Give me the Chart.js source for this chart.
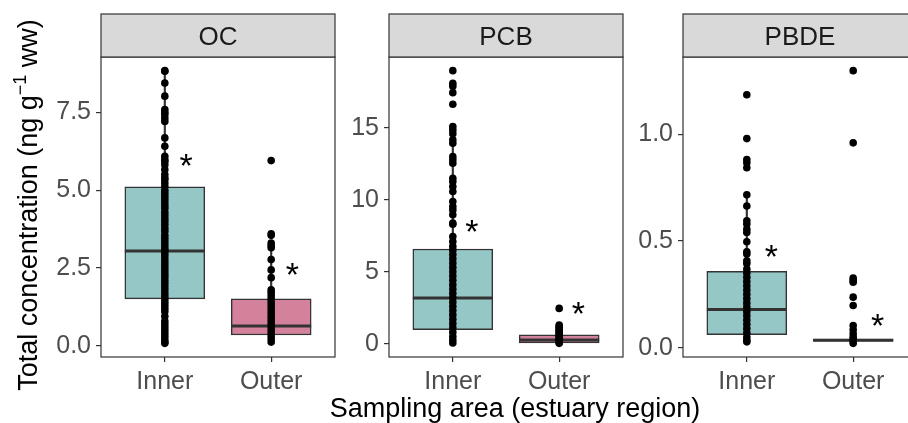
<!DOCTYPE html>
<html>
<head>
<meta charset="utf-8">
<script src="https://cdn.jsdelivr.net/npm/chart.js@4.4.0/dist/chart.umd.min.js"></script>
<style>
    body { margin: 0; width: 908px; height: 423px; overflow: hidden; background: #fff; position: relative;
           font-family: "Liberation Sans", Arial, sans-serif; }
    canvas { position: absolute; top: 0; }
    #ytitle { position: absolute; left: -182px; top: 190px; width: 420px; height: 30px; line-height: 30px;
              font-size: 27px; color: #000; text-align: center; transform: rotate(-90deg); white-space: nowrap; }
    #ytitle sup { font-size: 18px; line-height: 0; vertical-align: 0; position: relative; top: -11px; }
    #xtitle { position: absolute; left: 265px; top: 395px; width: 500px; line-height: 27px;
              font-size: 27px; color: #000; text-align: center; white-space: nowrap; }
</style>
</head>
<body>
<canvas id="c1" width="300" height="423" style="left:40px"></canvas>
<canvas id="c2" width="300" height="423" style="left:328px"></canvas>
<canvas id="c3" width="300" height="423" style="left:622px"></canvas>
<div id="ytitle">Total concentration (ng g<sup>−1</sup> ww)</div>
<div id="xtitle">Sampling area (estuary region)</div>

<script>
// Categorias (área de amostragem)
const groups = ['Inner', 'Outer'];
const boxColors = ['#96c7c7', '#d4829c'];

// OC - pontos individuais
const ocInner = [8.84, 8.82, 8.44, 8.02, 7.59, 7.5, 7.43, 7.32, 7.21, 6.68, 6.41, 6.09, 5.98, 5.93, 5.82,
    5.66, 5.5, 5.4, 5.34, 5.23, 5.12, 5.0, 4.9, 4.8, 4.7, 4.6, 4.5, 4.42, 4.3, 4.2, 4.1, 4.0, 3.9, 3.78,
    3.68, 3.55, 3.45, 3.35, 3.25, 3.15, 3.08, 3.0, 2.9, 2.8, 2.7, 2.6, 2.5, 2.4, 2.3, 2.2, 2.1, 2.0, 1.9,
    1.8, 1.7, 1.6, 1.5, 1.4, 1.3, 1.2, 1.1, 0.95, 0.8, 0.7, 0.6, 0.5, 0.4, 0.3, 0.2, 0.12, 0.08];
const ocOuter = [5.95, 3.6, 3.55, 3.3, 3.22, 3.15, 2.77, 2.44, 2.19, 1.8, 1.72, 1.62, 1.52, 1.42, 1.32,
    1.22, 1.12, 1.02, 0.92, 0.82, 0.72, 0.62, 0.52, 0.42, 0.32, 0.22, 0.12];
const ocQ1 = [1.51, 0.35];
const ocMedian = [3.05, 0.64];
const ocQ3 = [5.11, 1.51];
const ocWhiskerLo = [0.08, 0.12];
const ocWhiskerHi = [8.84, 3.3];
const ocTicks = [0, 2.5, 5, 7.5];
const ocStars = [5.96, 2.47];

// PCB
const pcbInner = [18.98, 18.1, 17.9, 17.45, 16.64, 15.09, 14.86, 14.6, 14.17, 13.94, 13.0, 12.78, 12.55,
    11.5, 11.27, 10.92, 10.58, 9.88, 9.53, 9.3, 8.96, 8.38, 8.3, 7.45, 7.1, 6.76, 6.5, 6.2, 5.9, 5.6, 5.3,
    5.0, 4.7, 4.4, 4.1, 3.8, 3.5, 3.2, 2.9, 2.6, 2.3, 2.0, 1.7, 1.4, 1.1, 0.8, 0.5, 0.25, 0.05];
const pcbOuter = [2.45, 1.3, 1.2, 1.1, 1.0, 0.9, 0.8, 0.7, 0.6, 0.5, 0.4, 0.3, 0.2, 0.1, 0.02];
const pcbQ1 = [0.97, 0.05];
const pcbMedian = [3.17, 0.25];
const pcbQ3 = [6.58, 0.62];
const pcbWhiskerLo = [0.05, 0.02];
const pcbWhiskerHi = [15.09, 1.2];
const pcbTicks = [0, 5, 10, 15];
const pcbStars = [8.19, 2.48];

// PBDE
const pbdeInner = [1.187, 0.981, 0.883, 0.868, 0.844, 0.717, 0.665, 0.595, 0.58, 0.556, 0.54, 0.497, 0.45,
    0.44, 0.408, 0.395, 0.369, 0.35, 0.33, 0.31, 0.29, 0.27, 0.25, 0.23, 0.21, 0.19, 0.17, 0.15, 0.13,
    0.11, 0.09, 0.07, 0.05, 0.035, 0.027];
const pbdeOuter = [1.30, 0.961, 0.326, 0.315, 0.307, 0.237, 0.198, 0.104, 0.084, 0.065, 0.05, 0.04, 0.03, 0.02];
const pbdeQ1 = [0.061, 0.03];
const pbdeMedian = [0.179, 0.035];
const pbdeQ3 = [0.358, 0.04];
const pbdeWhiskerLo = [0.027, 0.02];
const pbdeWhiskerHi = [0.717, 0.05];
const pbdeTicks = [0, 0.5, 1.0];
const pbdeStars = [0.45, 0.128];

const FONT = '"Liberation Sans", Arial, sans-serif';
const tickFont = { family: FONT, size: 25 };

// Desenha faixa do título, mediana, bordas e asteriscos
const facetPlugin = {
    id: 'facet',
    afterDatasetDraw(chart, args) {
        if (args.index !== 1) return;
        const p = chart.options.plugins.facet;
        const meta = chart.getDatasetMeta(1);
        const ctx = chart.ctx;
        ctx.save();
        ctx.strokeStyle = '#333';
        ctx.lineWidth = 3;
        meta.data.forEach((bar, i) => {
            const y = chart.scales.y.getPixelForValue(p.median[i]);
            ctx.beginPath();
            ctx.moveTo(bar.x - bar.width / 2, y);
            ctx.lineTo(bar.x + bar.width / 2, y);
            ctx.stroke();
        });
        ctx.restore();
    },
    afterDraw(chart) {
        const p = chart.options.plugins.facet;
        const ctx = chart.ctx;
        const a = chart.chartArea;
        ctx.save();
        // asteriscos
        ctx.fillStyle = '#000';
        ctx.font = '34px ' + FONT;
        ctx.textAlign = 'center';
        ctx.textBaseline = 'alphabetic';
        p.stars.forEach((v, i) => {
            const x = chart.scales.x.getPixelForValue(i + 1 + p.starDx);
            const y = chart.scales.y.getPixelForValue(v);
            ctx.fillText('*', x, y + 34 * 0.49);
        });
        // borda do painel
        ctx.strokeStyle = '#333';
        ctx.lineWidth = 1.2;
        ctx.strokeRect(a.left, a.top, a.right - a.left, a.bottom - a.top);
        // faixa do título
        ctx.fillStyle = '#d9d9d9';
        ctx.fillRect(a.left, 14, a.right - a.left, a.top - 14);
        ctx.strokeRect(a.left, 14, a.right - a.left, a.top - 14);
        ctx.fillStyle = '#1a1a1a';
        ctx.font = '26px ' + FONT;
        ctx.fillText(p.title, (a.left + a.right) / 2, 45);
        ctx.restore();
    }
};

function buildPanel(id, title, inner, outer, q1, median, q3, whiskerLo, whiskerHi, ticks, decimals, stars, starDx) {
    const all = inner.concat(outer);
    const lo = Math.min(...all), hi = Math.max(...all);
    const pad = (hi - lo) * 0.05;
    const points = inner.map(v => ({ x: 1, y: v })).concat(outer.map(v => ({ x: 2, y: v })));

    new Chart(document.getElementById(id), {
        type: 'bar',
        data: {
            datasets: [
                {
                    type: 'scatter',
                    data: points,
                    pointRadius: 3.8,
                    pointBackgroundColor: '#000',
                    pointBorderWidth: 0,
                    order: 0
                },
                {
                    data: groups.map((g, i) => ({ x: i + 1, y: [q1[i], q3[i]] })),
                    backgroundColor: boxColors,
                    borderColor: '#333',
                    borderWidth: 1.5,
                    borderSkipped: false,
                    barThickness: 80,
                    grouped: false,
                    order: 1
                },
                {
                    data: groups.map((g, i) => ({ x: i + 1, y: [whiskerLo[i], whiskerHi[i]] })),
                    backgroundColor: '#333',
                    borderWidth: 0,
                    barThickness: 1.5,
                    grouped: false,
                    order: 2
                }
            ]
        },
        options: {
            responsive: false,
            animation: false,
            layout: { padding: { top: 57, right: 5, left: 0, bottom: 0 } },
            plugins: {
                legend: { display: false },
                tooltip: { enabled: false },
                facet: { title, median, stars, starDx }
            },
            scales: {
                x: {
                    type: 'linear',
                    min: 0.4,
                    max: 2.6,
                    offset: false,
                    afterBuildTicks: s => { s.ticks = groups.map((g, i) => ({ value: i + 1 })); },
                    afterFit: s => { s.height = 66; },
                    ticks: { callback: v => groups[v - 1], font: tickFont, color: '#4d4d4d', padding: 5, maxRotation: 0, autoSkip: false },
                    grid: { drawOnChartArea: false, offset: false, tickLength: 5, color: '#333', lineWidth: 1.2 },
                    border: { display: false }
                },
                y: {
                    type: 'linear',
                    min: lo - pad,
                    max: hi + pad,
                    afterBuildTicks: s => { s.ticks = ticks.map(v => ({ value: v })); },
                    afterFit: s => { s.width = 61; },
                    ticks: { callback: v => v.toFixed(decimals), font: tickFont, color: '#4d4d4d', padding: 5 },
                    grid: { drawOnChartArea: false, tickLength: 5, color: '#333', lineWidth: 1.2 },
                    border: { display: false }
                }
            }
        },
        plugins: [facetPlugin]
    });
}

buildPanel('c1', 'OC', ocInner, ocOuter, ocQ1, ocMedian, ocQ3, ocWhiskerLo, ocWhiskerHi, ocTicks, 1, ocStars, 0.2);
buildPanel('c2', 'PCB', pcbInner, pcbOuter, pcbQ1, pcbMedian, pcbQ3, pcbWhiskerLo, pcbWhiskerHi, pcbTicks, 0, pcbStars, 0.18);
buildPanel('c3', 'PBDE', pbdeInner, pbdeOuter, pbdeQ1, pbdeMedian, pbdeQ3, pbdeWhiskerLo, pbdeWhiskerHi, pbdeTicks, 1, pbdeStars, 0.23);
</script>
</body>
</html>
